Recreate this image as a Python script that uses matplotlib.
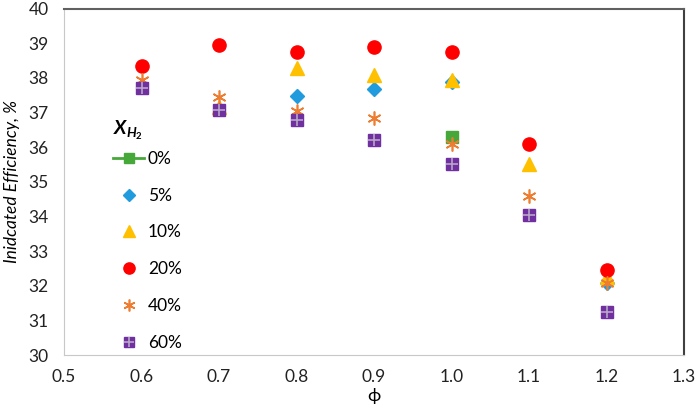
import matplotlib.pyplot as plt
from matplotlib.legend_handler import HandlerTuple

plt.rcParams['font.family'] = ['Lato', 'DejaVu Sans']
plt.rcParams['mathtext.fontset'] = 'custom'
plt.rcParams['mathtext.it'] = 'Lato:bold:italic'
plt.rcParams['mathtext.rm'] = 'Lato:bold'

# data
phi_0 = [1.0]
eff_0 = [36.30]
phi_5 = [0.8, 0.9, 1.0, 1.2]
eff_5 = [37.47, 37.68, 37.87, 32.07]
phi_10 = [0.7, 0.8, 0.9, 1.0, 1.1, 1.2]
eff_10 = [37.15, 38.29, 38.09, 37.94, 35.50, 32.24]
phi_20 = [0.6, 0.7, 0.8, 0.9, 1.0, 1.1, 1.2]
eff_20 = [38.34, 38.95, 38.74, 38.88, 38.74, 36.08, 32.45]
phi_40 = [0.6, 0.7, 0.8, 0.9, 1.0, 1.1, 1.2]
eff_40 = [37.94, 37.45, 37.04, 36.83, 36.08, 34.60, 32.07]
phi_60 = [0.6, 0.7, 0.8, 0.9, 1.0, 1.1, 1.2]
eff_60 = [37.70, 37.07, 36.78, 36.20, 35.51, 34.04, 31.25]

labels = ['0%', '5%', '10%', '20%', '40%', '60%']
xticks = [0.5, 0.6, 0.7, 0.8, 0.9, 1.0, 1.1, 1.2, 1.3]
yticks = list(range(30, 41))

fig = plt.figure(figsize=(6.99, 4.18), dpi=100)
ax = fig.add_axes([64 / 699, 1 - 355 / 418, 620 / 699, 346.5 / 418])

h0, = ax.plot(phi_0, eff_0, '-s', color='#47A83A', ms=8, lw=2, zorder=3)
h1, = ax.plot(phi_5, eff_5, 'D', color='#1F9BDE', ms=7, ls='none', zorder=3)
h2, = ax.plot(phi_10, eff_10, '^', color='#FFC000', ms=10, ls='none', zorder=3)
h3, = ax.plot(phi_20, eff_20, 'o', color='#FF0000', ms=9.5, ls='none', zorder=3)
h4, = ax.plot(phi_40, eff_40, marker=(6, 2, 0), color='#ED7D31', ms=10, mew=1.2,
              ls='none', zorder=4)
h5a, = ax.plot(phi_60, eff_60, 's', color='#7030A0', ms=9, ls='none', zorder=4)
h5b, = ax.plot(phi_60, eff_60, '+', color='#B7A6C8', ms=9, mew=1.2,
               ls='none', zorder=5)

ax.set_xlim(0.5, 1.3)
ax.set_ylim(30, 40)
ax.set_xticks(xticks)
ax.set_xticklabels(['%.1f' % t for t in xticks])
ax.set_yticks(yticks)
ax.tick_params(length=0, labelsize=12.5, colors='#222222')
ax.tick_params(axis='y', pad=11)
ax.tick_params(axis='x', pad=10)

ax.spines['left'].set_color('#C8C8C8')
ax.spines['bottom'].set_color('#C8C8C8')
ax.spines['top'].set_color('#606060')
ax.spines['right'].set_color('#404040')
ax.spines['top'].set_linewidth(1.5)
ax.spines['right'].set_linewidth(1.5)

ax.set_xlabel('\u03d5', fontsize=13, labelpad=2)
ax.set_ylabel('Inidcated Efficiency, %', fontsize=12.5, style='italic', labelpad=6)

leg = ax.legend([h0, h1, h2, h3, h4, (h5a, h5b)], labels,
                handler_map={tuple: HandlerTuple(ndivide=1, pad=0)},
                title=r'$X_{H_2}$', title_fontsize=14, fontsize=12.5,
                loc='upper left', bbox_to_anchor=(0.068, 0.70),
                frameon=False, labelspacing=1.2, handlelength=1.8,
                handletextpad=0.2, borderaxespad=0, markerscale=0.85)
leg._legend_box.align = 'left'
leg._legend_box.sep = 6

fig.savefig('out.png', dpi=100)
